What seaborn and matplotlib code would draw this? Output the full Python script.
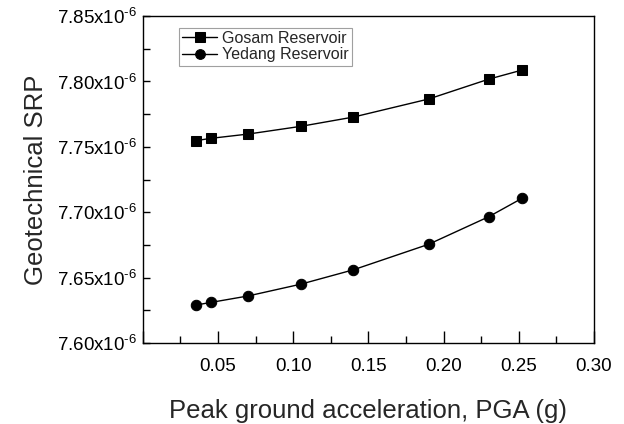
import pandas as pd
import matplotlib
matplotlib.use("Agg")
import matplotlib.pyplot as plt
import seaborn as sns
from matplotlib.ticker import MultipleLocator, FuncFormatter

sns.set_style("ticks")
plt.rcParams["font.family"] = ["Liberation Sans", "DejaVu Sans"]
plt.rcParams["mathtext.fontset"] = "custom"
plt.rcParams["mathtext.rm"] = "Liberation Sans"
plt.rcParams["mathtext.it"] = "Liberation Sans"

pga = [0.035, 0.045, 0.07, 0.105, 0.14, 0.19, 0.23, 0.252]
gosam = [7.7547e-6, 7.7565e-6, 7.7598e-6, 7.7657e-6, 7.7728e-6, 7.7866e-6, 7.8018e-6, 7.8087e-6]
yedang = [7.6290e-6, 7.6310e-6, 7.6360e-6, 7.6450e-6, 7.6560e-6, 7.6755e-6, 7.6966e-6, 7.7106e-6]
sites = ["Gosam Reservoir", "Yedang Reservoir"]

df = pd.concat([
    pd.DataFrame({"pga": pga, "srp": gosam, "site": sites[0]}),
    pd.DataFrame({"pga": pga, "srp": yedang, "site": sites[1]}),
], ignore_index=True)

fig = plt.figure(figsize=(6.24, 4.24), dpi=100)
ax = fig.add_axes([0.229, 0.191, 0.723, 0.771])

sns.lineplot(data=df, x="pga", y="srp", style="site",
             markers={sites[0]: "s", sites[1]: "o"}, dashes=False,
             color="black", linewidth=1, markersize=7.5,
             markeredgecolor="black", ax=ax, legend=True)

ax.set_xlim(0, 0.30)
ax.set_ylim(7.60e-6, 7.85e-6)
ax.xaxis.set_major_locator(MultipleLocator(0.05))
ax.xaxis.set_minor_locator(MultipleLocator(0.025))
ax.yaxis.set_major_locator(MultipleLocator(0.05e-6))
ax.yaxis.set_minor_locator(MultipleLocator(0.025e-6))
ax.xaxis.set_major_formatter(FuncFormatter(lambda v, p: "" if abs(v) < 1e-9 else f"{v:.2f}"))
ax.yaxis.set_major_formatter(FuncFormatter(lambda v, p: f"{v*1e6:.2f}x10$^{{\u20106}}$"))
ax.yaxis.get_offset_text().set_visible(False)

ax.tick_params(axis="both", which="both", direction="in", labelsize=13.5, width=1, colors="black")
ax.tick_params(axis="x", which="major", length=9, pad=11)
ax.tick_params(axis="x", which="minor", length=5)
ax.tick_params(axis="y", which="major", length=5, pad=4)
ax.tick_params(axis="y", which="minor", length=5)

for s in ax.spines.values():
    s.set_visible(True)
    s.set_linewidth(1)
    s.set_color("black")

ax.set_xlabel("Peak ground acceleration, PGA (g)", fontsize=18.5, labelpad=17)
ax.set_ylabel("Geotechnical SRP", fontsize=18.5, labelpad=7)

leg = ax.legend(loc="upper left", bbox_to_anchor=(0.08, 0.965), borderaxespad=0,
                fontsize=11.5, frameon=True, fancybox=False, handlelength=2.2,
                handletextpad=0.3, borderpad=0.2, labelspacing=0.1)
leg.get_frame().set_edgecolor("#888888")
leg.get_frame().set_linewidth(0.8)
for h in leg.get_lines():
    h.set_markersize(7)

plt.savefig("out.png", dpi=100)
